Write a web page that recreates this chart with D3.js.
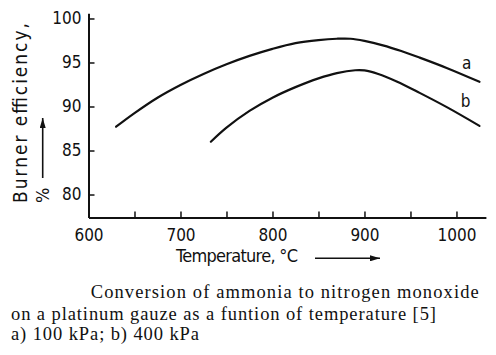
<!DOCTYPE html>
<html><head><meta charset="utf-8">
<script src="https://cdn.jsdelivr.net/npm/d3@7"></script>
<style>
html,body{margin:0;padding:0;background:#fff;}
svg{display:block;}
.ax{font-family:'DejaVu Sans Condensed','DejaVu Sans',sans-serif;font-stretch:condensed;fill:#111;}
.cap{font-family:'Liberation Serif','Times New Roman',serif;fill:#111;}
</style></head><body>
<svg id="c" width="496" height="355"></svg>
<script>
// ---- data ----
const tempA = [630,650,675,700,725,750,775,800,825,850,870,885,900,920,940,960,990,1025];
const effA  = [87.7,89.25,91.0,92.45,93.7,94.8,95.75,96.55,97.2,97.55,97.7,97.7,97.45,96.95,96.3,95.55,94.35,92.8];
const tempB = [733,750,775,800,825,850,870,890,900,915,935,960,990,1025];
const effB  = [86.0,87.6,89.5,91.0,92.2,93.2,93.8,94.12,94.1,93.7,92.85,91.55,89.9,87.8];
const seriesNames = ["a","b"];
const labelTemps = [1011,1010];
const labelEffs  = [94.9,90.6];
const xTicks = [600,650,700,750,800,850,900,950,1000];
const yTicks = [80,85,90,95,100];
const xTitle = "Temperature, °C";
const yTitle = "Burner efficiency,";
const yUnit = "%";
const caption = ["Conversion of ammonia to nitrogen monoxide",
                 "on a platinum gauze as a funtion of temperature [5]",
                 "a) 100 kPa; b) 400 kPa"];

const svg = d3.select("#c");
const x = d3.scaleLinear().domain([600,1032]).range([88.5,485.9]);
const y = d3.scaleLinear().domain([77.4,100.6]).range([217.4,13.2]);

// axes
const gx = svg.append("g").attr("class","ax").attr("transform",`translate(0,${y(77.4)})`)
  .call(d3.axisBottom(x).tickValues(xTicks).tickSizeInner(-6).tickSizeOuter(0).tickPadding(12)
        .tickFormat(d => d % 100 === 0 ? d : ""));
const gy = svg.append("g").attr("class","ax").attr("transform",`translate(${x(600)},0)`)
  .call(d3.axisLeft(y).tickValues(yTicks).tickSizeInner(-6).tickSizeOuter(0).tickPadding(7));
[gx,gy].forEach(g=>{
  g.select(".domain").attr("stroke","#111").attr("stroke-width",2);
  g.selectAll(".tick line").attr("stroke","#111").attr("stroke-width",1.5);
  g.selectAll(".tick text").attr("font-size",17).attr("fill","#111")
   .style("font-family","'DejaVu Sans Condensed','DejaVu Sans',sans-serif");
});

// curves
const line = d3.line().x(d=>x(d[0])).y(d=>y(d[1])).curve(d3.curveCatmullRom.alpha(0.5));
[[tempA,effA],[tempB,effB]].forEach(([t,e])=>{
  svg.append("path").attr("d", line(t.map((v,i)=>[v,e[i]])))
    .attr("fill","none").attr("stroke","#111").attr("stroke-width",2.2).attr("stroke-linecap","round");
});
seriesNames.forEach((n,i)=>{
  svg.append("text").attr("class","ax").attr("x",x(labelTemps[i])).attr("y",y(labelEffs[i]))
    .attr("text-anchor","middle").attr("dominant-baseline","central").attr("font-size",17).text(n);
});

// arrow marker
svg.append("defs").append("marker").attr("id","ar").attr("viewBox","0 0 10 6")
  .attr("refX",10).attr("refY",3).attr("markerWidth",10).attr("markerHeight",6)
  .attr("markerUnits","userSpaceOnUse").attr("orient","auto")
  .append("path").attr("d","M0,0L10,3L0,6z").attr("fill","#111");

// x title
svg.append("text").attr("class","ax").attr("x",176).attr("y",261.7).attr("font-size",18)
  .attr("textLength",122).attr("lengthAdjust","spacing").text(xTitle);
svg.append("line").attr("x1",315).attr("x2",380).attr("y1",258.3).attr("y2",258.3)
  .attr("stroke","#111").attr("stroke-width",1.6).attr("marker-end","url(#ar)");

// y title
svg.append("text").attr("class","ax").attr("transform","translate(26.5,203) rotate(-90)")
  .attr("font-size",19).attr("textLength",180).attr("lengthAdjust","spacing").text(yTitle);
svg.append("text").attr("class","ax").attr("transform","translate(49,203) rotate(-90)")
  .attr("font-size",18).text(yUnit);
svg.append("line").attr("x1",42.7).attr("x2",42.7).attr("y1",178).attr("y2",118)
  .attr("stroke","#111").attr("stroke-width",1.6).attr("marker-end","url(#ar)");

// caption
const capX = [90.7,11,11], capY = [298.3,319.5,339.5], capW = [388,425,188];
caption.forEach((s,i)=>{
  svg.append("text").attr("class","cap").attr("x",capX[i]).attr("y",capY[i]).attr("font-size",18.5)
    .attr("textLength",capW[i]).attr("lengthAdjust","spacing").text(s);
});
</script>
</body></html>
